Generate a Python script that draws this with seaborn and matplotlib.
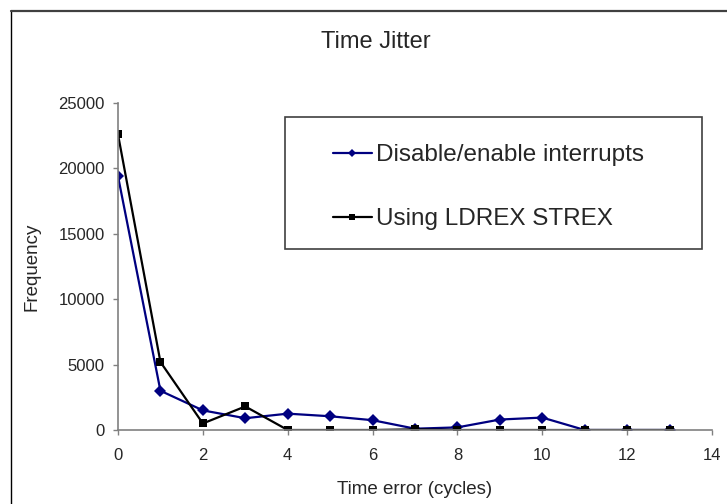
import numpy as np
import pandas as pd
import matplotlib
matplotlib.use("Agg")
import matplotlib.pyplot as plt
import seaborn as sns

# data
time_error = [0, 1, 2, 3, 4, 5, 6, 7, 8, 9, 10, 11, 12, 13]
disable_enable = [19400, 3000, 1500, 900, 1250, 1050, 750, 100, 200, 800, 950, 0, 0, 0]
ldrex_strex = [22600, 5200, 500, 1800, 0, 0, 0, 50, 0, 0, 0, 0, 0, 0]
series_names = ["Disable/enable interrupts", "Using LDREX STREX"]

sns.set_style("white")
plt.rcParams["font.family"] = ["Liberation Sans", "DejaVu Sans"]

df = pd.DataFrame({
    "x": time_error * 2,
    "y": disable_enable + ldrex_strex,
    "series": [series_names[0]] * len(time_error) + [series_names[1]] * len(time_error),
})

W, H = 727, 504
fig = plt.figure(figsize=(W / 100, H / 100), dpi=100)
ax = fig.add_axes([118 / W, 1 - 430 / H, (712 - 118) / W, (430 - 103) / H])

sns.lineplot(
    data=df, x="x", y="y", hue="series", style="series",
    palette={series_names[0]: "#000080", series_names[1]: "black"},
    markers={series_names[0]: "D", series_names[1]: "s"},
    dashes=False, markersize=6, linewidth=1.6, markeredgewidth=0, ax=ax,
)

ax.set_xlim(0, 14)
ax.set_ylim(0, 25000)
ax.set_xticks(range(0, 15, 2))
ax.set_yticks(range(0, 25001, 5000))
ax.tick_params(axis="both", labelsize=12, direction="out", length=3.6, width=1,
               color="#808080", bottom=True, left=True)
ax.tick_params(axis="x", pad=9)
ax.tick_params(axis="y", pad=6)
for side in ["top", "right"]:
    ax.spines[side].set_visible(False)
for side in ["left", "bottom"]:
    ax.spines[side].set_color("#808080")
    ax.spines[side].set_linewidth(1.2)

ax.set_xlabel("Time error (cycles)", fontsize=13.5)
ax.set_ylabel("Frequency", fontsize=13.5)
ax.xaxis.set_label_coords((415 - 118) / 594, (430 - 489) / 327)
ax.xaxis.label.set_va("center")
ax.yaxis.set_label_coords((32 - 118) / 594, 0.5)
ax.yaxis.label.set_va("center")
fig.text(376 / W, 1 - 42 / H, "Time Jitter", ha="center", va="center", fontsize=17)

# legend frame drawn as its own box, entries placed inside it
fig.patches.append(plt.Rectangle((285 / W, 1 - 249 / H), (702 - 285) / W, (249 - 117) / H,
                                 transform=fig.transFigure, fill=False,
                                 edgecolor="#404040", linewidth=1.2))
handles, labels = ax.get_legend_handles_labels()
leg = ax.legend(
    handles, labels, loc="upper left", bbox_to_anchor=(333 / W, 1 - 144 / H),
    bbox_transform=fig.transFigure, fontsize=17.5, frameon=False,
    labelspacing=1.73, handlelength=1.6, handletextpad=0.16, borderpad=0,
    borderaxespad=0, markerscale=0.7,
)

# outer chart border: only the left and top edges fall inside the picture
fig.add_artist(plt.Line2D([11 / W, 11 / W], [0, 1 - 11 / H], transform=fig.transFigure,
                          color="black", linewidth=1))
fig.add_artist(plt.Line2D([11 / W, 1], [1 - 11 / H, 1 - 11 / H], transform=fig.transFigure,
                          color="#404040", linewidth=1.6))

fig.savefig("out.png", dpi=100)
